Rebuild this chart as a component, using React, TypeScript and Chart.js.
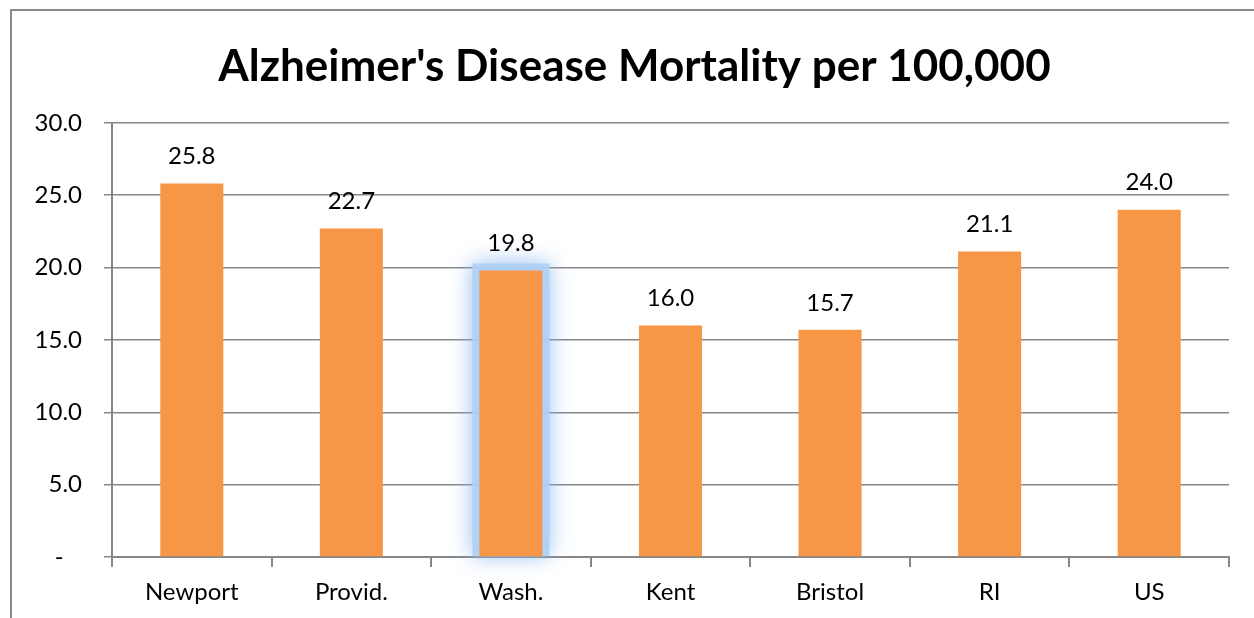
import React, { useEffect, useRef } from "react";
import { Chart, registerables } from "chart.js";

Chart.register(...registerables);

const categories = ["Newport", "Provid.", "Wash.", "Kent", "Bristol", "RI", "US"];
const mortality = [25.8, 22.7, 19.8, 16.0, 15.7, 21.1, 24.0];
const highlightedIndex = 2;
const chartTitle = "Alzheimer's Disease Mortality per 100,000";
const yMin = 0;
const yMax = 30;
const yStep = 5;

const FONT = "Lato, 'Open Sans', sans-serif";
const GRID = "#878787";

const glowPlugin = {
  id: "glow",
  beforeDatasetsDraw(chart: any) {
    const meta = chart.getDatasetMeta(0);
    const bar = meta.data[highlightedIndex];
    if (!bar) return;
    const { x, y, base, width } = bar.getProps(["x", "y", "base", "width"], true);
    const ctx = chart.ctx;
    ctx.save();
    ctx.shadowColor = "rgba(140,185,240,1)";
    ctx.shadowBlur = 20;
    ctx.fillStyle = "rgba(175,210,246,0.9)";
    const pad = 7;
    ctx.fillRect(x - width / 2 - pad, y - pad, width + pad * 2, base - y + pad);
    ctx.restore();
  },
};

const labelPlugin = {
  id: "valueLabels",
  afterDatasetsDraw(chart: any) {
    const meta = chart.getDatasetMeta(0);
    const ctx = chart.ctx;
    ctx.save();
    ctx.font = `24px ${FONT}`;
    ctx.fillStyle = "#000";
    ctx.textAlign = "center";
    ctx.textBaseline = "middle";
    meta.data.forEach((bar: any, i: number) => {
      ctx.fillText(mortality[i].toFixed(1), bar.x, bar.y - 27);
    });
    ctx.restore();
  },
};

export default function App() {
  const ref = useRef<HTMLCanvasElement>(null);
  useEffect(() => {
    if (!ref.current) return;
    const chart = new Chart(ref.current, {
      type: "bar",
      data: {
        labels: categories,
        datasets: [
          {
            data: mortality,
            backgroundColor: "#F79646",
            categoryPercentage: 1,
            barPercentage: 0.395,
          },
        ],
      },
      options: {
        animation: false,
        responsive: false,
        maintainAspectRatio: false,
        layout: { padding: { left: 15, right: 0, top: 0, bottom: 0 } },
        plugins: {
          legend: { display: false },
          tooltip: { enabled: false },
          title: {
            display: true,
            text: chartTitle,
            color: "#000",
            font: { family: FONT, size: 44, weight: "bold", lineHeight: 1.2 },
            padding: { top: 40, bottom: 30 },
          },
        },
        scales: {
          x: {
            offset: true,
            grid: {
              offset: true,
              drawOnChartArea: false,
              drawTicks: true,
              tickLength: 10,
              color: GRID,
              lineWidth: 2,
            },
            border: { display: true, color: GRID, width: 2 },
            ticks: { color: "#000", font: { family: FONT, size: 24 }, padding: 11 },
            afterFit(scale: any) {
              scale.height = 61;
            },
          },
          y: {
            min: yMin,
            max: yMax,
            grid: {
              color: GRID,
              lineWidth: 1.5,
              drawTicks: true,
              tickLength: 8,
            },
            border: { display: true, color: GRID, width: 2 },
            ticks: {
              stepSize: yStep,
              color: "#000",
              font: { family: FONT, size: 24 },
              padding: 22,
              callback: (v: any) => (Number(v) === 0 ? "-   " : Number(v).toFixed(1)),
            },
            afterFit(scale: any) {
              scale.width = 97;
            },
          },
          spacer: {
            type: "linear",
            position: "right",
            display: true,
            grid: { display: false, drawTicks: false },
            border: { display: false },
            ticks: { display: false },
            afterFit(scale: any) {
              scale.width = 25;
            },
          },
        },
      },
      plugins: [glowPlugin, labelPlugin],
    });
    return () => chart.destroy();
  }, []);

  return (
    <div style={{ position: "fixed", left: 0, top: 0, width: 1254, height: 618, background: "#fff", overflow: "hidden" }}>
      <div
        style={{
          position: "absolute",
          left: 10,
          top: 9,
          width: 1400,
          height: 800,
          border: "2px solid #8a8a8a",
        }}
      />
      <canvas ref={ref} width={1254} height={618} style={{ position: "absolute", left: 0, top: 0 }} />
    </div>
  );
}
